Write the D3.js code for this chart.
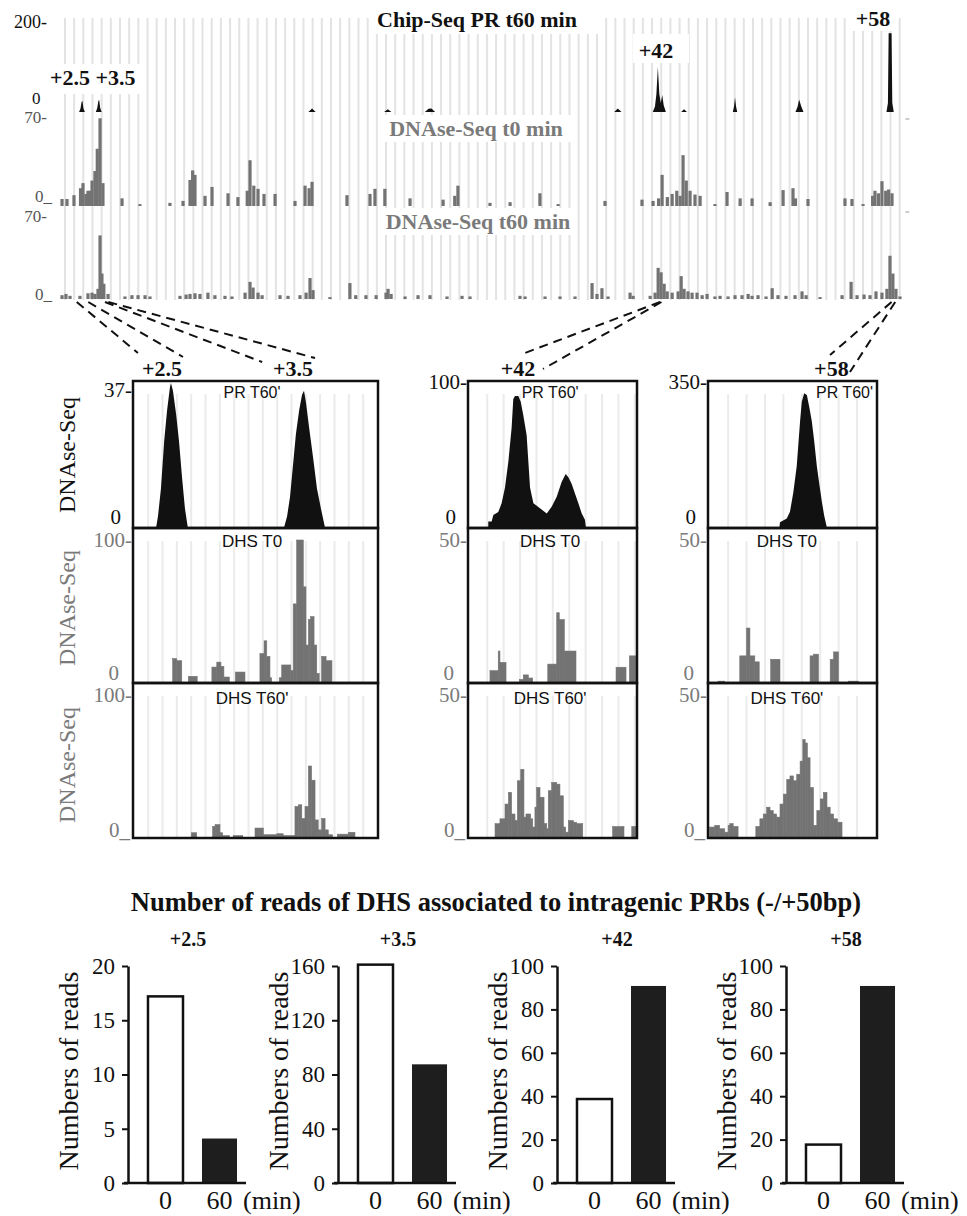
<!DOCTYPE html>
<html>
<head>
<meta charset="utf-8">
<script src="https://cdn.jsdelivr.net/npm/d3@7"></script>
<style>
  body { margin: 0; background: #fff; }
  svg { display: block; }
</style>
</head>
<body>
<svg id="fig" width="967" height="1216"></svg>
<script>
// ---------------- data ----------------
// overview tracks, position in kb along the gene
const chipTrack = [
  [2.3, 0], [2.4, 8], [2.47, 22], [2.53, 25], [2.6, 8], [2.7, 0],
  [3.45, 0], [3.55, 9], [3.62, 24], [3.68, 27], [3.75, 9], [3.85, 0],
  [18.05, 0], [18.3, 8], [18.55, 0],
  [23.25, 0], [23.5, 6], [23.75, 0],
  [26.05, 0], [26.3, 7], [26.5, 8], [26.75, 0],
  [39.05, 0], [39.3, 8], [39.55, 0],
  [41.7, 0], [41.85, 12], [41.95, 40], [42.05, 100], [42.15, 40], [42.25, 20], [42.35, 38], [42.45, 15], [42.6, 0],
  [43.65, 0], [43.85, 6], [44.05, 0],
  [47.2, 0], [47.28, 12], [47.35, 33], [47.42, 12], [47.5, 0],
  [51.5, 0], [51.65, 12], [51.75, 28], [51.9, 12], [52.05, 0],
  [57.75, 0], [57.85, 20], [57.9, 175], [58.1, 175], [58.15, 20], [58.25, 0]
]
const dnaseT0 = [
  [1.13, 5.5], [1.47, 5.5], [1.95, 8.5], [2.4, 14], [2.57, 18], [2.77, 9.5], [2.91, 12], [3.05, 12], [3.19, 20],
  [3.39, 27.5], [3.55, 45], [3.74, 69], [3.94, 18], [5.25, 6], [6.48, 1.5], [8.54, 2.5], [9.44, 4],
  [9.92, 20.5], [10.1, 28], [10.26, 24.5], [10.95, 8], [11.43, 15], [12.53, 10], [13.21, 7], [13.85, 12],
  [14.04, 36], [14.3, 16], [14.59, 13.5], [15.0, 9.5], [15.76, 9.5], [17.13, 4], [17.82, 16], [18.1, 14],
  [18.3, 19], [20.7, 8.5], [22.28, 9.5], [22.62, 13.5], [23.3, 13.5], [25.03, 6], [27.3, 5], [28.1, 8],
  [28.32, 16], [30.52, 2.5], [31.9, 3], [33.95, 10], [35.2, 1.5], [38.42, 4], [40.96, 5], [41.72, 4],
  [42.1, 6], [42.34, 24.5], [42.7, 7], [43.03, 9.5], [43.35, 12], [43.58, 8], [43.78, 40], [44.0, 20],
  [44.26, 12], [44.6, 9], [44.95, 8], [45.97, 1.5], [46.8, 11], [47.7, 6], [48.52, 6], [49.76, 3],
  [50.65, 12.5], [51.33, 14], [51.5, 6], [52.36, 5.5], [54.9, 6], [55.38, 5.5], [56.14, 1.5],
  [56.8, 8], [56.96, 12], [57.2, 10], [57.44, 19.5], [57.7, 12], [57.9, 13], [58.13, 10]
]
const dnaseT60 = [
  [1.13, 3], [1.4, 4], [1.68, 2.5], [2.36, 2.5], [2.91, 4.5], [3.19, 5], [3.39, 4], [3.6, 8], [3.74, 50],
  [3.87, 20], [4.0, 12], [4.29, 4], [5.45, 2], [5.93, 3], [6.35, 3], [6.83, 3], [7.17, 2], [9.23, 2.5],
  [9.65, 3.5], [9.92, 4], [10.26, 4.5], [10.6, 4], [11.15, 5], [11.63, 3], [12.32, 2.5], [12.8, 2],
  [13.7, 5], [14.04, 13.5], [14.25, 9], [14.59, 5], [14.87, 3], [16.1, 3], [16.65, 2.5], [17.47, 3],
  [17.89, 5], [18.16, 16.5], [18.37, 7], [19.53, 1.5], [20.9, 12.5], [21.3, 3], [22.0, 3], [22.7, 3],
  [23.38, 5], [23.52, 8], [23.73, 4], [24.69, 2], [25.58, 3], [26.4, 3], [27.57, 2], [28.6, 2.5],
  [29.15, 2], [32.58, 2.5], [32.93, 2], [34.3, 2], [35.33, 2], [36.36, 2], [37.53, 12.5], [37.87, 4],
  [38.21, 8.5], [38.63, 2], [40.14, 5], [40.35, 2.5], [41.52, 2.5], [41.86, 5], [42.07, 24.5],
  [42.27, 21], [42.48, 12], [42.69, 6], [43.03, 5], [43.44, 6], [43.65, 18], [43.85, 8], [44.12, 6],
  [44.4, 5], [44.74, 5], [45.09, 3], [45.43, 4], [45.97, 2], [46.32, 2.5], [46.87, 2], [47.35, 3],
  [47.83, 3], [48.25, 4], [48.52, 2.5], [48.93, 3], [49.48, 2], [49.9, 8.5], [50.3, 3], [50.85, 2.5],
  [51.47, 3], [51.95, 6], [52.23, 3], [53.19, 1.5], [54.7, 3], [55.32, 13.5], [55.73, 3], [56.21, 3.5],
  [56.62, 3], [57.03, 6], [57.44, 5], [57.78, 8], [57.99, 34], [58.19, 20], [58.4, 8], [58.68, 2]
]
const overviewTitles = ['Chip-Seq PR t60 min', 'DNAse-Seq t0 min', 'DNAse-Seq t60 min']
const overviewMax = [200, 70, 70]
const siteNames = ['+2.5', '+3.5', '+42', '+58']
// which kb range of the overview opens into which zoom window (x in % of window)
const linkKb = [[2.14, 2.93], [4.08, 4.31], [42.2, 42.3], [58.1, 58.35]]
const linkPct = [[2.0, 20.4], [52.7, 74.3], [33.7, 44.4], [72.2, 84.0]]
const linkPanel = [0, 0, 1, 2]

// zoom windows, x = % of the window
const panel1PR = [[9.4, 0], [10.2, 3], [11.4, 10], [12.7, 22], [13.9, 30], [15.1, 36], [15.5, 37], [16.3, 35],
  [17.6, 29], [18.8, 22], [20.0, 13], [21.2, 5], [22.4, 0], [61.6, 0], [62.9, 3], [64.1, 8], [65.3, 16],
  [66.5, 24], [67.8, 30], [69.0, 34], [69.8, 35], [70.6, 32], [71.8, 26], [73.5, 18], [75.1, 10], [76.7, 5], [78.4, 0]]
const panel2PR = [[12.0, 0], [12.0, 4.5], [14.0, 4.5], [15.0, 9], [17.9, 11], [19.9, 17], [21.9, 28], [23.9, 46],
  [25.8, 69], [26.8, 89], [27.8, 91], [29.8, 91], [31.2, 87], [32.7, 78], [34.7, 64], [35.7, 46], [36.7, 28],
  [38.7, 17], [42.6, 13.6], [46.6, 10], [49.5, 14.7], [52.5, 21.5], [55.4, 31.7], [57.8, 37.3], [59.4, 35],
  [61.3, 30.5], [63.3, 23.8], [65.3, 17], [67.3, 10], [69.2, 5.7], [69.8, 0]]
const panel3PR = [[42.2, 0], [42.6, 14], [46.6, 23], [48.5, 39], [50.5, 86], [52.5, 149], [53.5, 204], [54.5, 258],
  [55.5, 305], [56.9, 325], [58.5, 321], [60.0, 290], [61.4, 258], [62.8, 211], [64.4, 149], [66.0, 102],
  [67.4, 63], [68.7, 31], [70.4, 0]]
// DHS tracks: [start %, end %, reads]
const panel1T0 = [[16.2, 17.8, 16.5], [17.8, 19.9, 15], [22.6, 26.2, 4], [32.2, 34.2, 10.5], [34.2, 35.9, 14],
  [35.9, 37.1, 11], [37.1, 39.3, 3.5], [41.8, 45.7, 7], [51.8, 53.5, 20], [53.5, 54.6, 29], [54.6, 55.9, 18],
  [55.9, 56.6, 3], [59.7, 60.7, 3], [60.7, 64.4, 12], [64.4, 65.4, 8], [65.4, 66.8, 55], [66.8, 69.5, 100],
  [69.5, 70.6, 67], [70.6, 71.6, 26], [71.6, 72.5, 44], [72.5, 73.9, 46], [73.9, 75.0, 26], [75.0, 76.0, 6],
  [77.0, 78.8, 18], [78.8, 81.2, 15]]
const panel2T0 = [[13.0, 17.9, 4], [17.9, 18.9, 10.9], [18.9, 22.5, 6.9], [30.4, 32.7, 0.9], [32.7, 35.7, 2.5],
  [35.7, 38.3, 1.4], [47.2, 52.5, 6.3], [52.5, 54.0, 24.4], [54.0, 57.0, 22], [57.0, 63.9, 10.9],
  [87.6, 93.5, 5.2], [95.5, 99.4, 9.2]]
const panel3T0 = [[5.9, 9.9, 0.3], [18.8, 22.8, 9.2], [22.8, 24.8, 19], [24.8, 27.7, 9.2], [27.7, 30.3, 7.1],
  [37.1, 42.6, 8], [60.4, 62.4, 9.2], [62.4, 65.4, 9.8], [72.3, 74.3, 8], [74.3, 77.2, 10.6], [83.2, 89.1, 0.3]]
const panel1T60 = [[23.8, 26.0, 3], [32.5, 33.5, 7.5], [33.5, 35.5, 8.7], [35.5, 36.6, 3], [36.6, 39.3, 1],
  [40.9, 44.8, 1], [49.8, 53.2, 6.3], [53.2, 58.7, 1.6], [58.7, 61.3, 2.3], [61.3, 66.1, 1], [66.1, 67.5, 21.5],
  [67.5, 68.9, 22.7], [68.9, 70.2, 13], [70.2, 71.6, 21.5], [71.6, 72.9, 50], [72.9, 74.3, 40], [74.3, 75.6, 12],
  [75.6, 77.0, 5], [77.0, 78.4, 13], [78.4, 79.7, 5], [79.7, 81.5, 1.6], [83.4, 87.9, 2], [87.9, 90.6, 3.3]]
const panel2T60 = [[16.0, 18.9, 4.7], [18.9, 21.9, 6.4], [21.9, 23.9, 11.6], [23.9, 25.8, 15.7], [25.8, 27.8, 8.1],
  [27.8, 29.2, 5.8], [29.2, 31.2, 19.8], [31.2, 33.1, 23.8], [33.1, 34.3, 7], [34.3, 37.1, 8.1], [37.1, 38.3, 6.4],
  [38.3, 39.6, 3.5], [39.6, 40.6, 10.5], [40.6, 42.6, 17.4], [42.6, 45.0, 14], [45.0, 46.6, 4.7], [46.6, 47.5, 2.9],
  [47.5, 49.5, 16.3], [49.5, 52.5, 19.2], [52.5, 54.4, 18.6], [54.4, 56.4, 14.5], [56.4, 57.8, 3.5],
  [57.8, 59.4, 1.7], [59.4, 62.3, 5.8], [62.3, 64.3, 5.2], [64.3, 67.9, 4.7], [85.6, 92.3, 3.7], [96.9, 99.4, 3.7]]
const panel3T60 = [[1.0, 4.0, 3.5], [4.0, 6.9, 4.1], [6.9, 9.9, 2.9], [9.9, 11.9, 1.7], [11.9, 12.9, 4.1],
  [12.9, 14.9, 4.7], [14.9, 17.8, 3.7], [28.3, 30.7, 3.7], [30.7, 32.7, 6.4], [32.7, 34.7, 8.1], [34.7, 36.7, 10.5],
  [36.7, 38.6, 9.3], [38.6, 40.6, 8.1], [40.6, 42.6, 7], [42.6, 44.6, 11.6], [44.6, 46.6, 15.1], [46.6, 48.5, 20.3],
  [48.5, 50.5, 21.5], [50.5, 52.5, 19.8], [52.5, 54.5, 22.1], [54.5, 56.1, 26.7], [56.1, 57.5, 34.3],
  [57.5, 58.8, 33.1], [58.8, 60.4, 27.9], [60.4, 62.4, 17.4], [62.4, 64.4, 4.1], [64.4, 66.4, 9.3],
  [66.4, 68.3, 13.4], [68.3, 70.4, 15.7], [70.4, 72.3, 10.5], [72.3, 74.3, 8.1], [74.3, 76.6, 6.4], [76.6, 79.3, 5.2]]
const prMax = [37, 100, 350]
const dhsMax = [100, 50, 50]
const rowNames = ["PR T60'", 'DHS T0', "DHS T60'"]

// read counts (bottom)
const readsT0 = [17.2, 161, 38.7, 17.7]
const readsT60 = [4.1, 87.5, 90.8, 90.8]
const readsMax = [20, 160, 100, 100]
const readsTicks = [[0, 5, 10, 15, 20], [0, 40, 80, 120, 160], [0, 20, 40, 60, 80, 100], [0, 20, 40, 60, 80, 100]]
const timePoints = ['0', '60']

// ---------------- drawing ----------------
const serif = "'Liberation Serif', 'Times New Roman', serif"
const sans = "'Liberation Sans', Arial, sans-serif"
const INK = '#111'
const GREY = '#737373'
const LABEL_GREY = '#7a7a7a'
const STRIPE = '#e3e3e3'

const svg = d3.select('#fig')

function label (g, x, y, str, o = {}) {
  return g.append('text')
    .attr('x', x).attr('y', y)
    .attr('font-family', o.family || serif)
    .attr('font-size', o.size || 18)
    .attr('font-weight', o.weight || 'normal')
    .attr('fill', o.fill || INK)
    .attr('text-anchor', o.anchor || 'start')
    .text(str)
}

// ===== overview =====
const overview = svg.append('g')
const xTop = d3.scaleLinear().domain([1.1, 59.05]).range([61.6, 905.4])
const yTracks = [
  d3.scaleLinear().domain([0, overviewMax[0]]).range([112, 22]),
  d3.scaleLinear().domain([0, overviewMax[1]]).range([206, 117]),
  d3.scaleLinear().domain([0, overviewMax[2]]).range([299, 210])
]

// browser gridlines
overview.append('g').selectAll('line')
  .data(d3.range(1.33, 59.1, 0.63))
  .join('line')
  .attr('x1', d => xTop(d)).attr('x2', d => xTop(d))
  .attr('y1', 18).attr('y2', 300)
  .attr('stroke', STRIPE).attr('stroke-width', 2)

// white boxes behind overview labels
const boxes = [[370, 4, 228, 30], [48, 64, 92, 30], [633, 34, 56, 29], [850, 0, 48, 31], [382, 115, 190, 27], [380, 208, 195, 27]]
overview.append('g').selectAll('rect').data(boxes).join('rect')
  .attr('x', d => d[0]).attr('y', d => d[1]).attr('width', d => d[2]).attr('height', d => d[3])
  .attr('fill', '#fff')

// ChIP profile
overview.append('path')
  .datum(chipTrack)
  .attr('d', d3.area().x(d => xTop(d[0])).y0(yTracks[0](0)).y1(d => yTracks[0](d[1])))
  .attr('fill', INK)

// DNase bars
const binKb = 0.11
;[dnaseT0, dnaseT60].forEach((track, i) => {
  const y = yTracks[i + 1]
  overview.append('g').selectAll('rect').data(track).join('rect')
    .attr('x', d => xTop(d[0] - binKb))
    .attr('width', d => xTop(d[0] + binKb) - xTop(d[0] - binKb))
    .attr('y', d => y(d[1]))
    .attr('height', d => y(0) - y(d[1]))
    .attr('fill', GREY)
})

// right-edge ticks
;[1, 2].forEach(i => {
  overview.append('line')
    .attr('x1', xTop.range()[1]).attr('x2', xTop.range()[1] + 4)
    .attr('y1', yTracks[i](overviewMax[i]) + 2).attr('y2', yTracks[i](overviewMax[i]) + 2)
    .attr('stroke', '#999').attr('stroke-width', 1)
})

// overview axis labels
label(overview, 47, yTracks[0](200) + 6, '200-', { anchor: 'end' })
label(overview, 32, yTracks[0](0) - 8, '0', { size: 17 })
label(overview, 47, yTracks[1](70) + 6, '70-', { anchor: 'end', fill: '#555', size: 17 })
label(overview, 35, yTracks[1](0) - 4, '0_', { fill: '#555', size: 17 })
label(overview, 47, yTracks[2](70) + 12, '70-', { anchor: 'end', fill: '#555', size: 17 })
label(overview, 35, yTracks[2](0) + 1, '0_', { fill: '#555', size: 17 })

label(overview, 477, 27, overviewTitles[0], { size: 22, weight: 'bold', anchor: 'middle' })
label(overview, 476, 136, overviewTitles[1], { size: 22, weight: 'bold', anchor: 'middle', fill: LABEL_GREY })
label(overview, 478, 229, overviewTitles[2], { size: 22, weight: 'bold', anchor: 'middle', fill: LABEL_GREY })

label(overview, 50, 85, siteNames[0] + ' ' + siteNames[1], { size: 22, weight: 'bold' })
label(overview, 656, 58, siteNames[2], { size: 22, weight: 'bold', anchor: 'middle' })
label(overview, 873, 26, siteNames[3], { size: 22, weight: 'bold', anchor: 'middle' })

// ===== zoom windows =====
const zoom = svg.append('g')
const panelLeft = [133, 468, 708]
const panelWidth = [245, 169, 169]
const rowTop = [381, 528, 683]
const rowBottom = [528, 683, 838]
const xPanel = panelLeft.map((l, i) => d3.scaleLinear().domain([0, 100]).range([l, l + panelWidth[i]]))
const yRow = [
  prMax.map(m => d3.scaleLinear().domain([0, m]).range([528, 383])),
  dhsMax.map(m => d3.scaleLinear().domain([0, m]).range([682, 540])),
  dhsMax.map(m => d3.scaleLinear().domain([0, m]).range([837, 695]))
]
const stripeStart = [6.2, 11.4, 11.9]
const stripeStep = [5.85, 9.7, 10.9]
const prTracks = [panel1PR, panel2PR, panel3PR]
const t0Tracks = [panel1T0, panel2T0, panel3T0]
const t60Tracks = [panel1T60, panel2T60, panel3T60]

// connectors from overview to windows
const linkEndY = [[353, 357], [362, 358], [353, 369], [355, 372]]
linkKb.forEach((kb, i) => {
  const xp = xPanel[linkPanel[i]]
  kb.forEach((k, j) => {
    zoom.append('line')
      .attr('x1', xTop(k)).attr('y1', 302)
      .attr('x2', xp(linkPct[i][j])).attr('y2', linkEndY[i][j])
      .attr('stroke', INK).attr('stroke-width', 2)
      .attr('stroke-dasharray', '9,6')
  })
})

const siteLabelPct = [[11.8, siteNames[0]], [65.3, siteNames[1]], [29.6, siteNames[2]], [73.0, siteNames[3]]]
siteLabelPct.forEach((s, i) => {
  label(zoom, xPanel[linkPanel[i]](s[0]), 376, s[1], { size: 22, weight: 'bold', anchor: 'middle' })
})

for (let p = 0; p < 3; p++) {
  const x = xPanel[p]
  const g = zoom.append('g')
  // stripes
  for (let r = 0; r < 3; r++) {
    g.append('g').selectAll('line')
      .data(d3.range(stripeStart[p], 99, stripeStep[p]))
      .join('line')
      .attr('x1', d => x(d)).attr('x2', d => x(d))
      .attr('y1', rowTop[r] + 13).attr('y2', rowBottom[r])
      .attr('stroke', '#ebebeb').attr('stroke-width', 2)
  }
  // PR profile
  const yPR = yRow[0][p]
  g.append('path')
    .datum(prTracks[p])
    .attr('d', d3.area().x(d => x(d[0])).y0(yPR(0)).y1(d => yPR(d[1])))
    .attr('fill', INK)
  // DHS bars
  ;[t0Tracks[p], t60Tracks[p]].forEach((track, k) => {
    const y = yRow[k + 1][p]
    g.append('g').selectAll('rect').data(track).join('rect')
      .attr('x', d => x(d[0]))
      .attr('width', d => x(d[1]) - x(d[0]))
      .attr('y', d => y(d[2]))
      .attr('height', d => y(0) - y(d[2]))
      .attr('fill', GREY)
      .attr('stroke', GREY).attr('stroke-width', 0.6)
  })
  // frames
  for (let r = 0; r < 3; r++) {
    g.append('rect')
      .attr('x', x(0)).attr('y', rowTop[r])
      .attr('width', x(100) - x(0)).attr('height', rowBottom[r] - rowTop[r])
      .attr('fill', 'none').attr('stroke', INK).attr('stroke-width', 2.5)
  }
  // row titles
  const titleX = p === 2 ? [null, 46.7, 46.7] : [48.6, 48.6, 48.6]
  if (p === 2) {
    label(g, x(100) - 4, rowTop[0] + 17, rowNames[0], { family: sans, size: 16, anchor: 'end' })
  } else {
    label(g, x(titleX[0]), rowTop[0] + 17, rowNames[0], { family: sans, size: 16, anchor: 'middle' })
  }
  label(g, x(titleX[1]), rowTop[1] + 19, rowNames[1], { family: sans, size: 17, anchor: 'middle' })
  label(g, x(titleX[2]), rowTop[2] + 21, rowNames[2], { family: sans, size: 17, anchor: 'middle' })

  // value labels
  const topTick = p === 0 ? rowTop[0] + 16 : rowTop[0] + 8
  label(g, x(0) - 1, topTick, prMax[p] + '-', { size: 21, anchor: 'end' })
  label(g, x(0) - 12, yRow[0][p](0) - 4, '0', { size: 21, anchor: 'end' })
  label(g, x(0) - 1, rowTop[1] + 19, dhsMax[p] + '-', { size: 21, anchor: 'end', fill: LABEL_GREY })
  label(g, x(0) - 14, rowBottom[1] - 3, '0', { size: 21, anchor: 'end', fill: LABEL_GREY })
  label(g, x(0) - 1, rowTop[2] + 19, dhsMax[p] + '-', { size: 21, anchor: 'end', fill: LABEL_GREY })
  label(g, x(0) - 3, rowBottom[2] - 1, '0_', { size: 21, anchor: 'end', fill: LABEL_GREY })
}

// rotated DNAse-Seq labels
;[[455, INK], [608, LABEL_GREY], [765, LABEL_GREY]].forEach(d => {
  zoom.append('text')
    .attr('transform', `translate(75,${d[0]}) rotate(-90)`)
    .attr('text-anchor', 'middle')
    .attr('font-family', serif).attr('font-size', 24)
    .attr('fill', d[1])
    .text('DNAse-Seq')
})

// ===== read counts =====
const bottom = svg.append('g')
label(bottom, 496, 911, 'Number of reads of DHS associated to intragenic PRbs (-/+50bp)', { size: 26.5, weight: 'bold', anchor: 'middle' })

const chartLeft = [128, 338, 557, 786]
readsT0.forEach((v0, i) => {
  const left = chartLeft[i]
  const g = bottom.append('g')
  const y = d3.scaleLinear().domain([0, readsMax[i]]).range([1183, 966])
  const x = d3.scaleBand().domain(timePoints).range([left, left + 129]).paddingInner(0.352).paddingOuter(0.37)
  const vals = [v0, readsT60[i]]

  g.selectAll('rect').data(timePoints).join('rect')
    .attr('x', d => x(d))
    .attr('width', x.bandwidth())
    .attr('y', (d, j) => y(vals[j]))
    .attr('height', (d, j) => y(0) - y(vals[j]))
    .attr('fill', (d, j) => j === 0 ? '#fff' : '#1e1e1e')
    .attr('stroke', (d, j) => j === 0 ? INK : 'none')
    .attr('stroke-width', 2.5)

  const ax = g.append('g')
    .attr('transform', `translate(${left},0)`)
    .call(d3.axisLeft(y).tickValues(readsTicks[i]).tickSize(6).tickSizeOuter(0).tickPadding(7))
  ax.attr('font-family', serif).attr('font-size', 23)
  ax.select('.domain').attr('stroke', INK).attr('stroke-width', 2.5)
  ax.selectAll('.tick line').attr('stroke', INK).attr('stroke-width', 2)
  ax.selectAll('.tick text').attr('fill', INK)

  g.append('line')
    .attr('x1', left - 4).attr('x2', left + 118)
    .attr('y1', y(0)).attr('y2', y(0))
    .attr('stroke', INK).attr('stroke-width', 2.5)

  timePoints.forEach(t => {
    label(g, x(t) + x.bandwidth() / 2, 1209, t, { size: 26, anchor: 'middle' })
  })
  label(g, x('60') + x.bandwidth() + 6, 1209, '(min)', { size: 26 })

  label(g, left + 60, 946, siteNames[i], { size: 20, weight: 'bold', anchor: 'middle' })

  g.append('text')
    .attr('transform', `translate(${left - 50},1071) rotate(-90)`)
    .attr('text-anchor', 'middle')
    .attr('font-family', serif).attr('font-size', 28)
    .attr('fill', INK)
    .text('Numbers of reads')
})
</script>
</body>
</html>
